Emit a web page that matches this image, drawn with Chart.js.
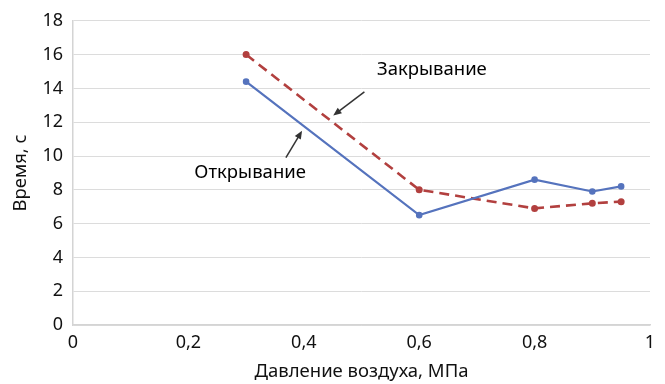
<!DOCTYPE html>
<html>
<head>
<meta charset="utf-8">
<script src="https://cdn.jsdelivr.net/npm/chart.js@4.4.1/dist/chart.umd.min.js"></script>
<style>
  html, body { margin: 0; padding: 0; background: #fff; }
  #wrap { width: 665px; height: 384px; }
</style>
</head>
<body>
<div id="wrap"><canvas id="myChart"></canvas></div>
<script>
// Pressure, MPa
const pressure = [0.3, 0.6, 0.8, 0.9, 0.95];
// Time, s
const opening = [14.4, 6.5, 8.6, 7.9, 8.2];
const closing = [16.0, 8.0, 6.9, 7.2, 7.3];
const xTicks = [0, 0.2, 0.4, 0.6, 0.8, 1];
const yTicks = [0, 2, 4, 6, 8, 10, 12, 14, 16, 18];

// annotation labels: text position and arrow (tail -> head), in data units
const notes = [
  { text: 'Закрывание', at: [0.622, 15.1], from: [0.505, 13.8], to: [0.451, 12.4] },
  { text: 'Открывание', at: [0.307, 9.0], from: [0.369, 9.9], to: [0.397, 11.5] }
];

const FONT = '"Noto Sans", "Open Sans", sans-serif';

function pairs(ys) {
  return pressure.map((x, i) => ({ x: x, y: ys[i] }));
}

// draws the text labels and arrows over the plot
const notesPlugin = {
  id: 'notes',
  afterDatasetsDraw(chart) {
    const ctx = chart.ctx;
    const sx = chart.scales.x, sy = chart.scales.y;
    ctx.save();
    notes.forEach(n => {
      ctx.fillStyle = '#000';
      ctx.font = '18.5px ' + FONT;
      ctx.textAlign = 'center';
      ctx.textBaseline = 'middle';
      ctx.fillText(n.text, sx.getPixelForValue(n.at[0]), sy.getPixelForValue(n.at[1]));

      const x1 = sx.getPixelForValue(n.from[0]), y1 = sy.getPixelForValue(n.from[1]);
      const x2 = sx.getPixelForValue(n.to[0]), y2 = sy.getPixelForValue(n.to[1]);
      const ang = Math.atan2(y2 - y1, x2 - x1);
      ctx.strokeStyle = '#333';
      ctx.lineWidth = 1.5;
      ctx.beginPath();
      ctx.moveTo(x1, y1);
      ctx.lineTo(x2 - 6 * Math.cos(ang), y2 - 6 * Math.sin(ang));
      ctx.stroke();
      // arrow head
      ctx.fillStyle = '#333';
      ctx.beginPath();
      ctx.moveTo(x2, y2);
      ctx.lineTo(x2 - 9 * Math.cos(ang - 0.4), y2 - 9 * Math.sin(ang - 0.4));
      ctx.lineTo(x2 - 9 * Math.cos(ang + 0.4), y2 - 9 * Math.sin(ang + 0.4));
      ctx.closePath();
      ctx.fill();
    });
    ctx.restore();
  }
};

var ctx = document.getElementById('myChart').getContext('2d');
var myChart = new Chart(ctx, {
  type: 'scatter',
  data: {
    datasets: [{
      label: 'Открывание',
      data: pairs(opening),
      showLine: true,
      borderColor: '#5573bd',
      backgroundColor: '#5573bd',
      borderWidth: 2.2,
      pointRadius: 2.2,
      pointHoverRadius: 2.2
    }, {
      label: 'Закрывание',
      data: pairs(closing),
      showLine: true,
      borderColor: '#b2403f',
      backgroundColor: '#b2403f',
      borderWidth: 2.6,
      borderDash: [10, 6],
      pointRadius: 2.2,
      pointHoverRadius: 2.2
    }]
  },
  options: {
    responsive: true,
    maintainAspectRatio: false,
    animation: false,
    layout: { padding: { top: 19, right: 15, left: 0, bottom: 0 } },
    plugins: {
      legend: { display: false },
      tooltip: { enabled: false }
    },
    scales: {
      x: {
        type: 'linear',
        min: 0,
        max: 1,
        afterBuildTicks: s => { s.ticks = xTicks.map(v => ({ value: v })); },
        afterFit: s => { s.height = 59; },
        grid: { display: false, drawTicks: false },
        border: { display: true, color: '#d4d4d4', width: 1.5 },
        ticks: {
          color: '#111',
          font: { family: FONT, size: 18 },
          padding: 7,
          callback: v => String(v).replace('.', ',')
        },
        title: {
          display: true,
          text: 'Давление воздуха, МПа',
          color: '#111',
          font: { family: FONT, size: 18.5 },
          padding: { top: 0, bottom: 1 }
        }
      },
      y: {
        min: 0,
        max: 18,
        afterBuildTicks: s => { s.ticks = yTicks.map(v => ({ value: v })); },
        afterFit: s => { s.width = 73; },
        grid: { color: '#dcdcdc', lineWidth: 1, drawTicks: false },
        border: { display: true, color: '#d4d4d4', width: 1.5 },
        ticks: {
          color: '#111',
          font: { family: FONT, size: 18 },
          padding: 10
        },
        title: {
          display: true,
          text: 'Время, с',
          color: '#111',
          font: { family: FONT, size: 18.5 },
          padding: { top: 10, bottom: 4 }
        }
      }
    }
  },
  plugins: [notesPlugin]
});
</script>
</body>
</html>
